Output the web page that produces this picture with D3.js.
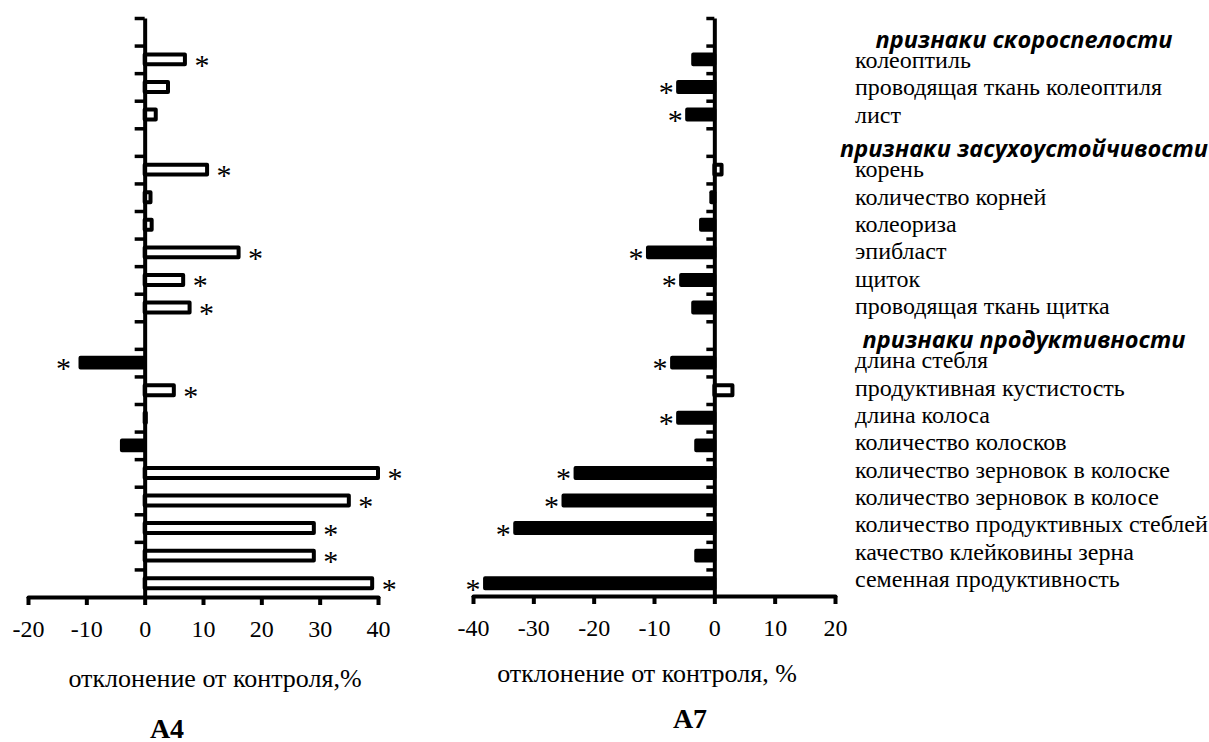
<!DOCTYPE html>
<html>
<head>
<meta charset="utf-8">
<script src="https://cdn.jsdelivr.net/npm/d3@7"></script>
<style>
  body { margin: 0; background: #fff; }
  text { fill: #000; }
</style>
</head>
<body>
<div id="chart"></div>
<script>
// rows top to bottom; headers have no bar
var rows = [
  "признаки скороспелости",
  "колеоптиль",
  "проводящая ткань колеоптиля",
  "лист",
  "признаки засухоустойчивости",
  "корень",
  "количество корней",
  "колеориза",
  "эпибласт",
  "щиток",
  "проводящая ткань щитка",
  "признаки продуктивности",
  "длина стебля",
  "продуктивная кустистость",
  "длина колоса",
  "количество колосков",
  "количество зерновок в колоске",
  "количество зерновок в колосе",
  "количество продуктивных стеблей",
  "качество клейковины зерна",
  "семенная продуктивность"
];
var headers = ["признаки скороспелости", "признаки засухоустойчивости", "признаки продуктивности"];

// deviation from control, %
var a4Values = [null, 6.9, 4.0, 1.9, null, 10.7, 1.0, 1.2, 16.1, 6.6, 7.7, null, -11.0, 5.0, 0.2, -3.9, 40.0, 35.0, 29.0, 29.0, 39.0];
var a4Stars  = [0, 1, 0, 0, 0, 1, 0, 0, 1, 1, 1, 0, 1, 1, 0, 0, 1, 1, 1, 1, 1];
var a7Values = [null, -3.5, -6.0, -4.5, null, 1.2, -0.5, -2.2, -11.0, -5.5, -3.5, null, -7.0, 3.0, -6.0, -3.0, -23.0, -25.0, -33.0, -3.0, -38.0];
var a7Stars  = [0, 0, 1, 1, 0, 0, 0, 0, 1, 1, 0, 0, 1, 0, 1, 0, 1, 1, 1, 0, 1];

var a4Ticks = [-20, -10, 0, 10, 20, 30, 40];
var a7Ticks = [-40, -30, -20, -10, 0, 10, 20];

var width = 1209, height = 742;
var yTop = 18, yBottom = 597;
var serif = "'Liberation Serif', 'Times New Roman', serif";

var svg = d3.select("#chart").append("svg")
  .attr("width", width)
  .attr("height", height);

var y = d3.scaleBand()
  .domain(d3.range(rows.length))
  .range([yTop, yBottom])
  .paddingInner(0.64)
  .paddingOuter(0.32);

var rowEdge = d3.scaleLinear()
  .domain([0, rows.length])
  .range([yTop, yBottom]);

// the name list on the right is spaced a little tighter than the bars
var nameY = d3.scaleLinear()
  .domain([1, rows.length - 1])
  .range([68, 587]);

function panel(values, stars, ticks, range, starGap, xAxisY, tickLen, title, name) {
  var x = d3.scaleLinear().domain(d3.extent(ticks)).range(range);
  var g = svg.append("g");

  var data = values.map(function(v, i) { return {i: i, v: v, star: stars[i]}; })
    .filter(function(d) { return d.v !== null; });

  g.selectAll("rect.bar")
    .data(data)
    .enter().append("rect")
      .attr("class", "bar")
      .attr("x", function(d) { return x(Math.min(0, d.v)); })
      .attr("y", function(d) { return y(d.i); })
      .attr("width", function(d) { return Math.abs(x(d.v) - x(0)); })
      .attr("height", y.bandwidth())
      .attr("fill", function(d) { return d.v < 0 ? "#000" : "#fff"; })
      .attr("stroke", "#000")
      .attr("stroke-width", 4)
      .attr("stroke-linejoin", "round");

  g.selectAll("text.star")
    .data(data.filter(function(d) { return d.star; }))
    .enter().append("text")
      .attr("class", "star")
      .attr("x", function(d) { return x(d.v) + (d.v < 0 ? -starGap : starGap); })
      .attr("y", function(d) { return y(d.i) + y.bandwidth() / 2 + 15.5; })
      .attr("text-anchor", "middle")
      .style("font-family", serif)
      .style("font-size", "30px")
      .text("*");

  var yAxis = g.append("g")
    .attr("transform", "translate(" + x(0) + ",0)")
    .call(d3.axisLeft(rowEdge)
      .tickValues(d3.range(rows.length))
      .tickSize(tickLen)
      .tickSizeOuter(0)
      .tickFormat(""));
  yAxis.select(".domain").attr("stroke-width", 4);
  yAxis.selectAll(".tick line").attr("stroke-width", 3.5);

  var xAxis = g.append("g")
    .attr("transform", "translate(0," + xAxisY + ")")
    .call(d3.axisBottom(x)
      .tickValues(ticks)
      .tickSize(8)
      .tickSizeOuter(0)
      .tickFormat(function(d) { return String(d); }));
  xAxis.select(".domain").attr("stroke-width", 4).attr("stroke-linecap", "round");
  xAxis.selectAll(".tick line").attr("stroke-width", 4);
  xAxis.selectAll(".tick text")
    .attr("y", 23)
    .style("font-family", serif)
    .style("font-size", "24px")
    .attr("fill", "#000");

  svg.append("text")
    .attr("x", title.x).attr("y", title.y)
    .attr("text-anchor", "middle")
    .style("font-family", serif)
    .style("font-size", "26px")
    .text(title.text);

  svg.append("text")
    .attr("x", name.x).attr("y", name.y)
    .attr("text-anchor", "middle")
    .style("font-family", serif)
    .style("font-size", "28px")
    .style("font-weight", "bold")
    .text(name.text);
}

panel(a4Values, a4Stars, a4Ticks, [28, 378], 17, 597, 10,
  {text: "отклонение от контроля,%", x: 215, y: 687},
  {text: "А4", x: 167, y: 738});

panel(a7Values, a7Stars, a7Ticks, [473, 835], 12, 596, 8,
  {text: "отклонение от контроля, %", x: 647, y: 682},
  {text: "А7", x: 690, y: 728});

// row names on the right
var names = svg.append("g");
names.selectAll("text")
  .data(rows.map(function(r, i) { return {i: i, label: r, head: headers.indexOf(r) >= 0}; }))
  .enter().append("text")
    .attr("x", function(d) { return d.head ? 1024 : 855; })
    .attr("y", function(d) { return nameY(d.i) + (d.head ? 7 : 0); })
    .attr("text-anchor", function(d) { return d.head ? "middle" : "start"; })
    .style("font-family", function(d) { return d.head ? "'Open Sans', 'Noto Sans', sans-serif" : serif; })
    .style("font-size", function(d) { return d.head ? "23.5px" : "24px"; })
    .style("font-weight", function(d) { return d.head ? "bold" : "normal"; })
    .style("font-style", function(d) { return d.head ? "italic" : "normal"; })
    .text(function(d) { return d.label; });
</script>
</body>
</html>
